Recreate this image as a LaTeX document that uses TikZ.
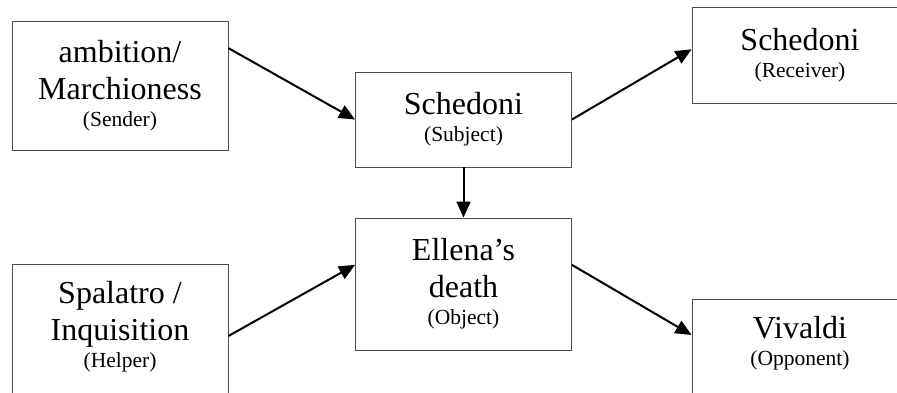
\documentclass[tikz,border=0pt]{standalone}
\usepackage{fontspec}
\setmainfont{Liberation Serif}
\usetikzlibrary{arrows.meta}
\newcommand\role[1]{{\fontsize{21.5}{25}\selectfont(#1)}}

\begin{document}
\begin{tikzpicture}[x=1pt,y=-1pt,
    box/.style={draw=black!70,line width=0.9pt,align=center,minimum width=216pt,
      font=\fontsize{32}{37}\selectfont},
    arr/.style={line width=2pt,-{Triangle[length=16pt,width=14pt]}}]
    \useasboundingbox (0,0) rectangle (897,392);
    \clip (0,0) rectangle (897,392);
    % upper row
    \node[box,minimum height=129pt] (sender) at (120,85.5) {ambition/\\Marchioness\\[-10pt]\role{Sender}};
    \node[box,minimum height=95pt] (subject) at (463.5,119.5) {Schedoni\\[-10pt]\role{Subject}};
    \node[box,minimum height=96pt] (receiver) at (800,55) {Schedoni\\[-10pt]\role{Receiver}};
    % lower row
    \node[box,minimum height=132pt] (object) at (463.5,284) {Ellena’s\\death\\[-10pt]\role{Object}};
    \node[box,anchor=north,inner ysep=17pt,text depth=150pt] (helper) at (120,264) {Spalatro /\\Inquisition\\[-10pt]\role{Helper}};
    \node[box,anchor=north,inner ysep=17pt,text depth=150pt] (opponent) at (800,299) {Vivaldi\\[-10pt]\role{Opponent}};
    \draw[arr] (sender.19) -- (subject.west);
    \draw[arr] (subject.east) -- (receiver.177);
    \draw[arr] (subject.south) -- (object.north);
    \draw[arr] ([yshift=-72pt]helper.north east) -- (object.170);
    \draw[arr] (object.10) -- ([yshift=-36pt]opponent.north west);
\end{tikzpicture}
\end{document}
